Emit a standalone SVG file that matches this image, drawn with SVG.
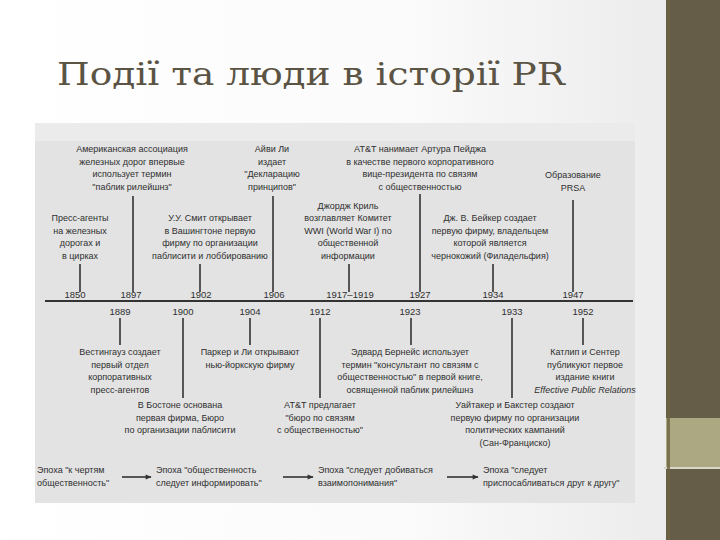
<svg xmlns="http://www.w3.org/2000/svg" width="720" height="540" viewBox="0 0 720 540">
<defs>
<linearGradient id="bg" x1="0" y1="0" x2="1" y2="0">
<stop offset="0" stop-color="#ffffff"/>
<stop offset="0.55" stop-color="#fbfbfb"/>
<stop offset="1" stop-color="#e9e9e9"/>
</linearGradient>
<marker id="arr" viewBox="0 0 10 10" refX="9" refY="5" markerWidth="7" markerHeight="6" orient="auto" markerUnits="userSpaceOnUse">
<path d="M0,1 L10,5 L0,9 z" fill="#333"/>
</marker>
<style>
.t{font-family:"Liberation Sans",Arial,sans-serif;font-size:9px;fill:#2f2f2f;text-anchor:middle}
.l{text-anchor:start}
.y{font-family:"Liberation Sans",Arial,sans-serif;font-size:9.5px;fill:#2f2f2f;text-anchor:middle}
.ln{stroke:#333;stroke-width:1.6;fill:none}
.ax{stroke:#333;stroke-width:2;fill:none}
</style>
</defs>
<rect x="0" y="0" width="720" height="540" fill="url(#bg)"/>
<!-- right decorative bar -->
<rect x="666" y="0" width="54" height="540" fill="#655d48"/>
<rect x="666" y="418" width="54" height="50" fill="#aca882"/>
<rect x="664" y="467" width="56" height="2" fill="#d8d6c8"/>
<rect x="667" y="0" width="3" height="540" fill="#6d6440" opacity="0.8"/>
<!-- title -->
<text x="57" y="85" font-family="'DejaVu Serif','Liberation Serif',serif" font-size="32" fill="#5b5444" textLength="508" lengthAdjust="spacingAndGlyphs">Події та люди в історії  PR</text>
<!-- scanned panel -->
<rect x="35" y="123" width="600" height="380" fill="#e3e3e3"/>
<rect x="35" y="123" width="600" height="18" fill="#ebebeb"/>
<g id="connectors">
<line class="ax" x1="45" y1="301" x2="633" y2="301"/>
<line class="ln" x1="80" y1="264" x2="80" y2="292"/>
<line class="ln" x1="133" y1="196" x2="133" y2="292"/>
<line class="ln" x1="200" y1="264" x2="200" y2="292"/>
<line class="ln" x1="273" y1="196" x2="273" y2="292"/>
<line class="ln" x1="349" y1="264" x2="349" y2="292"/>
<line class="ln" x1="420" y1="194" x2="420" y2="292"/>
<line class="ln" x1="493" y1="264" x2="493" y2="292"/>
<line class="ln" x1="573" y1="200" x2="573" y2="292"/>
<line class="ln" x1="120" y1="318" x2="120" y2="345"/>
<line class="ln" x1="183" y1="318" x2="183" y2="398"/>
<line class="ln" x1="250" y1="318" x2="250" y2="345"/>
<line class="ln" x1="320" y1="318" x2="320" y2="398"/>
<line class="ln" x1="411" y1="318" x2="411" y2="345"/>
<line class="ln" x1="512" y1="318" x2="512" y2="398"/>
<line class="ln" x1="583" y1="318" x2="583" y2="345"/>
<line class="ln" x1="122" y1="477" x2="151" y2="477" marker-end="url(#arr)"/>
<line class="ln" x1="283" y1="477" x2="313" y2="477" marker-end="url(#arr)"/>
<line class="ln" x1="447" y1="477" x2="478" y2="477" marker-end="url(#arr)"/>
</g>
<g id="years">
<text class="y" x="75" y="298">1850</text>
<text class="y" x="131" y="298">1897</text>
<text class="y" x="201" y="298">1902</text>
<text class="y" x="274" y="298">1906</text>
<text class="y" x="350" y="298">1917–1919</text>
<text class="y" x="420" y="298">1927</text>
<text class="y" x="493" y="298">1934</text>
<text class="y" x="573" y="298">1947</text>
<text class="y" x="120" y="315">1889</text>
<text class="y" x="183" y="315">1900</text>
<text class="y" x="250" y="315">1904</text>
<text class="y" x="320" y="315">1912</text>
<text class="y" x="410" y="315">1923</text>
<text class="y" x="512" y="315">1933</text>
<text class="y" x="583" y="315">1952</text>
</g>
<g id="n1897a">
<text class="t" x="132" y="152">Американская ассоциация</text>
<text class="t" x="132" y="164.5">железных дорог впервые</text>
<text class="t" x="132" y="177">использует термин</text>
<text class="t" x="132" y="189.5">"паблик рилейшнз"</text>
</g>
<g id="n1906">
<text class="t" x="272" y="152">Айви Ли</text>
<text class="t" x="272" y="164.5">издает</text>
<text class="t" x="272" y="177">"Декларацию</text>
<text class="t" x="272" y="189.5">принципов"</text>
</g>
<g id="n1927">
<text class="t" x="420" y="152">AT&amp;T нанимает Артура Пейджа</text>
<text class="t" x="420" y="164.5">в качестве первого корпоративного</text>
<text class="t" x="420" y="177">вице-президента по связям</text>
<text class="t" x="420" y="189.5">с общественностью</text>
</g>
<g id="n1947">
<text class="t" x="573" y="178">Образование</text>
<text class="t" x="573" y="190.5">PRSA</text>
</g>
<g id="n1850">
<text class="t" x="80" y="221">Пресс-агенты</text>
<text class="t" x="80" y="233.5">на железных</text>
<text class="t" x="80" y="246">дорогах и</text>
<text class="t" x="80" y="258.5">в цирках</text>
</g>
<g id="n1902">
<text class="t" x="210" y="221">У.У. Смит открывает</text>
<text class="t" x="210" y="233.5">в Вашингтоне первую</text>
<text class="t" x="210" y="246">фирму по организации</text>
<text class="t" x="210" y="258.5">паблисити и лоббированию</text>
</g>
<g id="n1917">
<text class="t" x="348" y="208.5">Джордж Криль</text>
<text class="t" x="348" y="221">возглавляет Комитет</text>
<text class="t" x="348" y="233.5">WWI (World War I) по</text>
<text class="t" x="348" y="246">общественной</text>
<text class="t" x="348" y="258.5">информации</text>
</g>
<g id="n1934">
<text class="t" x="490" y="221">Дж. В. Бейкер создает</text>
<text class="t" x="490" y="233.5">первую фирму, владельцем</text>
<text class="t" x="490" y="246">которой является</text>
<text class="t" x="490" y="258.5">чернокожий (Филадельфия)</text>
</g>
<g id="n1889">
<text class="t" x="120" y="355">Вестингауз создает</text>
<text class="t" x="120" y="367.5">первый отдел</text>
<text class="t" x="120" y="380">корпоративных</text>
<text class="t" x="120" y="392.5">пресс-агентов</text>
</g>
<g id="n1904">
<text class="t" x="250" y="355">Паркер и Ли открывают</text>
<text class="t" x="250" y="367.5">нью-йоркскую фирму</text>
</g>
<g id="n1923">
<text class="t" x="410" y="355">Эдвард Бернейс использует</text>
<text class="t" x="410" y="367.5">термин "консультант по связям с</text>
<text class="t" x="410" y="380">общественностью" в первой книге,</text>
<text class="t" x="410" y="392.5">освященной паблик рилейшнз</text>
</g>
<g id="n1952">
<text class="t" x="585" y="355">Катлип и Сентер</text>
<text class="t" x="585" y="367.5">публикуют первое</text>
<text class="t" x="585" y="380">издание книги</text>
<text class="t" x="585" y="392.5" font-style="italic">Effective Public Relations</text>
</g>
<g id="n1900">
<text class="t" x="180" y="408">В Бостоне основана</text>
<text class="t" x="180" y="420.5">первая фирма, Бюро</text>
<text class="t" x="180" y="433">по организации паблисити</text>
</g>
<g id="n1912">
<text class="t" x="320" y="408">AT&amp;T предлагает</text>
<text class="t" x="320" y="420.5">"бюро по связям</text>
<text class="t" x="320" y="433">с общественностью"</text>
</g>
<g id="n1933">
<text class="t" x="515" y="408">Уайтакер и Бакстер создают</text>
<text class="t" x="515" y="420.5">первую фирму по организации</text>
<text class="t" x="515" y="433">политических кампаний</text>
<text class="t" x="515" y="445.5">(Сан-Франциско)</text>
</g>
<g id="era1">
<text class="t l" x="37" y="473">Эпоха "к чертям</text>
<text class="t l" x="37" y="486">общественность"</text>
</g>
<g id="era2">
<text class="t l" x="156" y="473">Эпоха "общественность</text>
<text class="t l" x="156" y="486">следует информировать"</text>
</g>
<g id="era3">
<text class="t l" x="318" y="473">Эпоха "следует добиваться</text>
<text class="t l" x="318" y="486">взаимопонимания"</text>
</g>
<g id="era4">
<text class="t l" x="483" y="473">Эпоха "следует</text>
<text class="t l" x="483" y="486">приспосабливаться друг к другу"</text>
</g>
</svg>
